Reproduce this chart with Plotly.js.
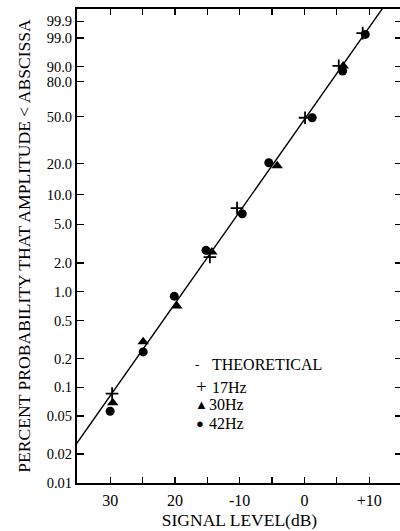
<!DOCTYPE html>
<html><head><meta charset="utf-8">
<script src="https://cdn.plot.ly/plotly-3.0.1.min.js"></script>
<style>html,body{margin:0;padding:0;overflow:hidden;background:#fff}#chart{width:402px;height:531px}</style>
</head><body><div id="chart"></div>
<script>
// Probability axis (Rayleigh paper) ticks, in percent
const probTickVals = [0.01, 0.02, 0.05, 0.1, 0.2, 0.5, 1, 2, 5, 10, 20, 50, 80, 90, 99, 99.9];
const probTickText = ["0.01", "0.02", "0.05", "0.1", "0.2", "0.5", "1.0", "2.0", "5.0", "10.0", "20.0", "50.0", "80.0", "90.0", "99.0", "99.9"];
// Signal level ticks (dB)
const levelTickVals = [-30, -25, -20, -15, -10, -5, 0, 5, 10];
const levelTickText = ["30", "", "20", "", "-10", "", "0", "", "+10"];
// Theoretical line
const theoDb = [-36, 12.5];
const theoPct = [0.0214, 99.997];
// 17 Hz (+)
const hz17Db = [-29.7, -14.6, -10.4, 0.1, 5.3, 9.0];
const hz17Pct = [0.086, 2.3, 7.3, 49.0, 90.5, 99.45];
// 30 Hz (triangle)
const hz30Db = [-29.6, -24.9, -19.7, -14.3, -4.2, 6.0];
const hz30Pct = [0.069, 0.30, 0.71, 2.6, 19.0, 90.5];
// 42 Hz (dot)
const hz42Db = [-30.0, -24.9, -20.1, -15.2, -9.6, -5.5, 1.2, 5.9, 9.4];
const hz42Pct = [0.056, 0.235, 0.90, 2.7, 6.4, 20.3, 49.0, 87.5, 99.35];

function ray(p) { return Math.log10(-Math.log(1 - p / 100)); }
const tr = a => a.map(ray);

const SERIF = 'Liberation Serif, Times New Roman, serif';
const traces = [
  {x: theoDb, y: tr(theoPct), mode: 'lines', line: {color: '#000', width: 1.4}, name: 'THEORETICAL', showlegend: false, hoverinfo: 'skip'},
  {x: hz17Db, y: tr(hz17Pct), mode: 'markers', name: '17Hz', showlegend: false,
   marker: {symbol: 'cross-thin', size: 9, color: '#000', line: {color: '#000', width: 1.8}}},
  {x: hz30Db, y: tr(hz30Pct), mode: 'markers', name: '30Hz', showlegend: false,
   marker: {symbol: 'triangle-up', size: 10, color: '#000'}},
  {x: hz42Db, y: tr(hz42Pct), mode: 'markers', name: '42Hz', showlegend: false,
   marker: {symbol: 'circle', size: 9, color: '#000'}}
];

const L = 77, T = 9, PW = 325, PH = 474;
const px = v => (v - L) / PW, py = v => (T + PH - v) / PH;
const ann = (x, y, text, anchor, size) => ({xref: 'paper', yref: 'paper', x: px(x), y: py(y), text: text,
  showarrow: false, xanchor: anchor, yanchor: 'middle', font: {family: SERIF, size: size || 16, color: '#000'}});

const layout = {
  width: 402, height: 531,
  margin: {l: L, r: 0, t: T, b: 531 - T - PH},
  paper_bgcolor: '#fff', plot_bgcolor: '#fff',
  font: {family: SERIF, color: '#000', size: 16},
  showlegend: false,
  xaxis: {
    range: [-35.12, 15.07], tickvals: levelTickVals, ticktext: levelTickText,
    ticks: 'inside', ticklen: 6, tickwidth: 1.3, tickcolor: '#000',
    showline: true, linewidth: 2, linecolor: '#000', mirror: 'ticks',
    showgrid: false, zeroline: false, tickfont: {family: SERIF, size: 16},
    ticklabelstandoff: 2,
    title: {text: 'SIGNAL LEVEL(dB)', font: {family: SERIF, size: 17.5}, standoff: 6}
  },
  yaxis: {
    range: [-4.004, 0.969], tickvals: tr(probTickVals), ticktext: probTickText,
    ticks: 'inside', ticklen: 7, tickwidth: 1.3, tickcolor: '#000',
    showline: true, linewidth: 2, linecolor: '#000', mirror: 'ticks',
    showgrid: false, zeroline: false, tickfont: {family: SERIF, size: 14.5},
    title: {text: 'PERCENT PROBABILITY THAT AMPLITUDE < ABSCISSA', font: {family: SERIF, size: 17.6}, standoff: 12}
  },
  annotations: [
    ann(197, 365, '-', 'center', 13),
    ann(210, 365, 'THEORETICAL', 'left'),
    ann(201, 386, '+', 'center', 19),
    ann(210, 387, '17Hz', 'left'),
    ann(201, 404, '▲', 'center', 13),
    ann(207, 404, '30Hz', 'left'),
    ann(200, 423, '●', 'center', 13),
    ann(207, 423, '42Hz', 'left')
  ]
};
Plotly.newPlot('chart', traces, layout, {displayModeBar: false, staticPlot: true});
</script>
</body></html>
